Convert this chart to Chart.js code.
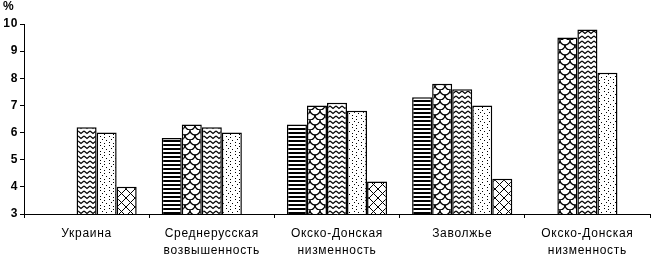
<!DOCTYPE html>
<html><head><meta charset="utf-8">
<script src="https://cdn.jsdelivr.net/npm/chart.js@4/dist/chart.umd.min.js"></script>
<style>html,body{margin:0;padding:0;background:#fff;}canvas{display:block;}</style>
</head><body>
<canvas id="c" width="655" height="256"></canvas>
<script>
const categories = [["Украина"], ["Среднерусская","возвышенность"], ["Окско-Донская","низменность"], ["Заволжье"], ["Окско-Донская","низменность"]];
const seriesStripes = [null, 5.8, 6.3, 7.3, null];
const seriesScales  = [null, 6.3, 7.0, 7.8, 9.5];
const seriesZigzag  = [6.2, 6.2, 7.1, 7.6, 9.8];
const seriesDots    = [6.0, 6.0, 6.8, 7.0, 8.2];
const seriesCross   = [4.0, null, 4.2, 4.3, null];
const yMin = 3, yMax = 10;
const unitLabel = "%";

function tile(w, h, draw) {
  const cv = document.createElement('canvas');
  cv.width = w; cv.height = h;
  const g = cv.getContext('2d');
  g.fillStyle = '#fff'; g.fillRect(0, 0, w, h);
  g.fillStyle = '#000'; g.strokeStyle = '#000';
  draw(g);
  return document.getElementById('c').getContext('2d').createPattern(cv, 'repeat');
}
const pStripes = tile(4, 4, g => { g.fillRect(0, 0, 4, 2); });
const pScales = tile(10, 10, g => {
  g.lineWidth = 1.3;
  g.beginPath(); g.arc(5, 0, 5, 0, Math.PI); g.stroke();
  g.beginPath(); g.arc(0, 5, 5, 0, Math.PI); g.stroke();
  g.beginPath(); g.arc(10, 5, 5, 0, Math.PI); g.stroke();
  g.beginPath(); g.arc(5, 10, 5, 0, Math.PI); g.stroke();
});
const pZigzag = tile(6, 5, g => {
  g.lineWidth = 1.3;
  g.beginPath(); g.moveTo(0, 1); g.lineTo(3, 3.5); g.lineTo(6, 1); g.stroke();
});
const pDots = tile(9, 9, g => {
  [[1,1],[5,2],[3,4],[7,5],[1,7],[5,8]].forEach(p => g.fillRect(p[0], p[1], 1, 1));
});
const pCross = tile(9, 9, g => {
  g.lineWidth = 1;
  g.beginPath(); g.moveTo(0, 0); g.lineTo(9, 9); g.moveTo(9, 0); g.lineTo(0, 9); g.stroke();
});

const FONT = '"Liberation Sans", Arial, sans-serif';
const unitPlugin = {
  id: 'unit',
  beforeDraw(chart) { chart.ctx.letterSpacing = '0.7px'; },
  afterDraw(chart) {
    const ctx = chart.ctx;
    ctx.save();
    ctx.fillStyle = '#000';
    ctx.font = 'bold 12px ' + FONT;
    ctx.textBaseline = 'top';
    ctx.fillText(unitLabel, 3, 1);
    ctx.restore();
  }
};

function ds(data, pat) {
  return { data, backgroundColor: pat, borderColor: '#000', borderWidth: 1.5, borderSkipped: 'start',
           categoryPercentage: 0.8, barPercentage: 1.0 };
}

new Chart(document.getElementById('c'), {
  type: 'bar',
  data: { labels: categories, datasets: [
    ds(seriesStripes, pStripes), ds(seriesScales, pScales), ds(seriesZigzag, pZigzag),
    ds(seriesDots, pDots), ds(seriesCross, pCross)
  ]},
  plugins: [unitPlugin],
  options: {
    responsive: false, animation: false,
    layout: { padding: { top: 24, right: 5, left: 0, bottom: 0 } },
    plugins: { legend: { display: false }, tooltip: { enabled: false } },
    scales: {
      x: {
        grid: { offset: true, drawOnChartArea: false, tickLength: 4, color: '#000' },
        border: { color: '#000', width: 1 },
        ticks: { color: '#000', font: { family: FONT, size: 12, lineHeight: 1.45 }, padding: 7, maxRotation: 0 },
        afterFit(s) { s.height = 42; }
      },
      y: {
        min: yMin, max: yMax,
        grid: { drawOnChartArea: false, tickLength: 4, color: '#000' },
        border: { color: '#000', width: 1 },
        ticks: { stepSize: 1, color: '#000', font: { family: FONT, size: 12, weight: 'bold' }, padding: 2 },
        afterFit(s) { s.width = 24; }
      }
    }
  }
});
</script>
</body></html>
